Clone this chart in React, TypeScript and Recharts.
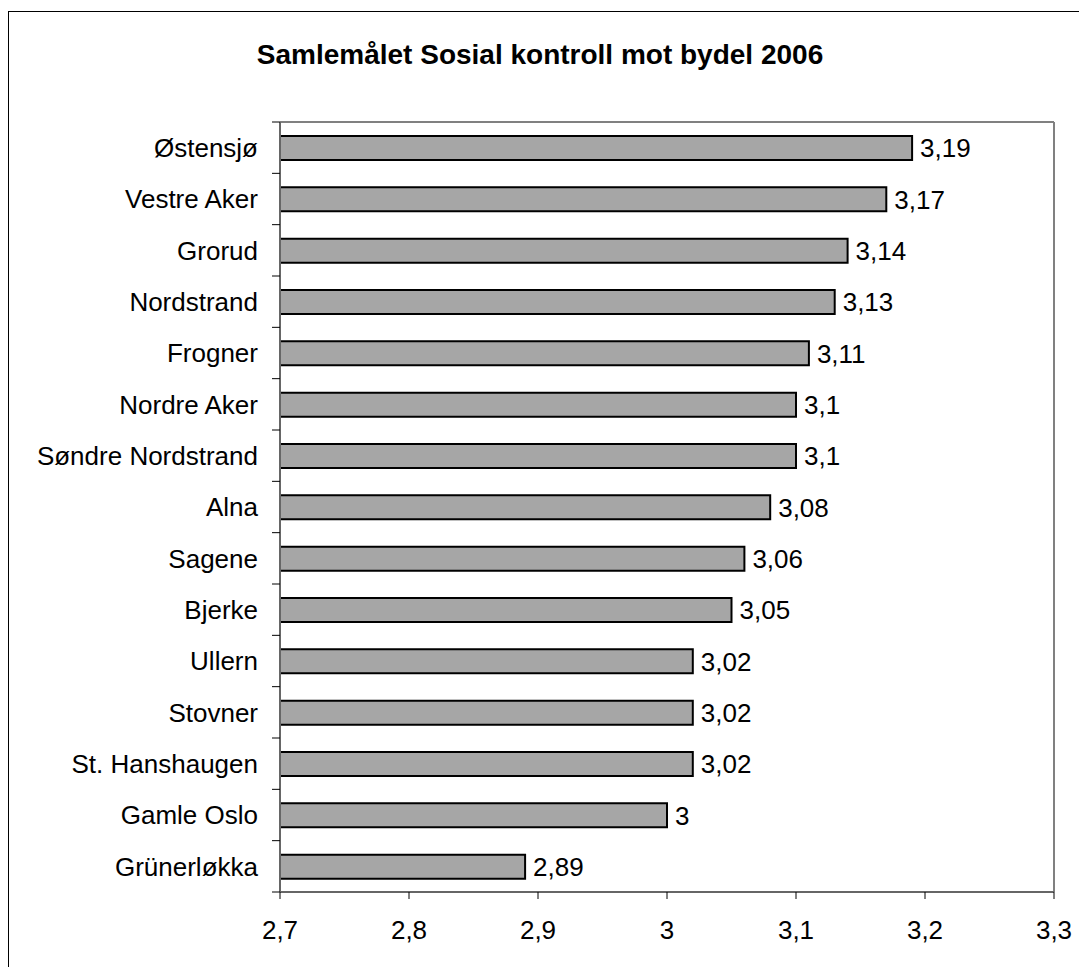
import { BarChart, Bar, XAxis, YAxis, CartesianGrid, LabelList } from 'recharts';

const districts = [
  'Østensjø',
  'Vestre Aker',
  'Grorud',
  'Nordstrand',
  'Frogner',
  'Nordre Aker',
  'Søndre Nordstrand',
  'Alna',
  'Sagene ',
  'Bjerke',
  'Ullern',
  'Stovner',
  'St. Hanshaugen',
  'Gamle Oslo',
  'Grünerløkka',
];

const scores = [3.19, 3.17, 3.14, 3.13, 3.11, 3.1, 3.1, 3.08, 3.06, 3.05, 3.02, 3.02, 3.02, 3, 2.89];

const xTicks = [2.7, 2.8, 2.9, 3, 3.1, 3.2, 3.3];

const data = districts.map((name, i) => ({ name, score: scores[i] }));

const W = 1078;
const H = 955;
const M = { top: 110, right: 33, bottom: 35, left: 0 };
const Y_AXIS_W = 271;
const X_AXIS_H = 40;
const PLOT_LEFT = M.left + Y_AXIS_W;
const PLOT_RIGHT = W - M.right;
const PLOT_BOTTOM = H - M.bottom - X_AXIS_H;
const BAND = (PLOT_BOTTOM - M.top) / districts.length;

const FONT = '"Liberation Sans", Arial, Helvetica, sans-serif';

const comma = (v: number) => String(v).replace('.', ',');

// category labels plus tick marks on the band edges (like the original)
function CategoryTick(props: any) {
  const { y, payload, index } = props;
  const top = y - BAND / 2;
  const last = index === districts.length - 1;
  return (
    <g>
      <line x1={PLOT_LEFT - 8} x2={PLOT_LEFT} y1={top} y2={top} stroke="#000" strokeWidth={1} />
      {last && (
        <line
          x1={PLOT_LEFT - 8}
          x2={PLOT_LEFT}
          y1={top + BAND}
          y2={top + BAND}
          stroke="#000"
          strokeWidth={1}
        />
      )}
      <text
        x={PLOT_LEFT - 22}
        y={y}
        dy="0.355em"
        textAnchor="end"
        fontSize={26}
        fontFamily={FONT}
        fill="#000"
      >
        {payload.value}
      </text>
    </g>
  );
}

export default function App() {
  return (
    <div
      style={{
        position: 'relative',
        marginTop: 3,
        width: 1079,
        height: 956,
        borderLeft: '1px solid #000',
        borderTop: '1px solid #000',
        boxSizing: 'border-box',
        fontFamily: FONT,
      }}
    >
      <div
        style={{
          position: 'absolute',
          left: 0,
          top: 29,
          width: 1062,
          textAlign: 'center',
          fontSize: 28,
          lineHeight: '28px',
          fontWeight: 'bold',
          color: '#000',
        }}
      >
        Samlemålet Sosial kontroll mot bydel 2006
      </div>
      <BarChart width={W} height={H} data={data} layout="vertical" margin={M}>
        <CartesianGrid
          horizontalPoints={[M.top]}
          verticalPoints={[PLOT_RIGHT]}
          stroke="#808080"
          strokeWidth={2}
        />
        <XAxis
          type="number"
          domain={[2.7, 3.3]}
          ticks={xTicks}
          allowDataOverflow
          height={X_AXIS_H}
          tickSize={7}
          tickMargin={22}
          tickFormatter={comma}
          tick={{ fontSize: 26, fill: '#000', fontFamily: FONT }}
          tickLine={{ stroke: '#000', strokeWidth: 1 }}
          axisLine={{ stroke: '#666', strokeWidth: 2 }}
        />
        <YAxis
          type="category"
          dataKey="name"
          width={Y_AXIS_W}
          tickSize={0}
          tickLine={false}
          interval={0}
          tick={<CategoryTick />}
          axisLine={{ stroke: '#666', strokeWidth: 2 }}
        />
        <Bar dataKey="score" barSize={24} fill="#a6a6a6" stroke="#000" strokeWidth={2} isAnimationActive={false}>
          <LabelList
            dataKey="score"
            position="right"
            offset={8}
            formatter={(v: any) => comma(Number(v))}
            style={{ fontSize: 26, fill: '#000', fontFamily: FONT }}
          />
        </Bar>
      </BarChart>
    </div>
  );
}
